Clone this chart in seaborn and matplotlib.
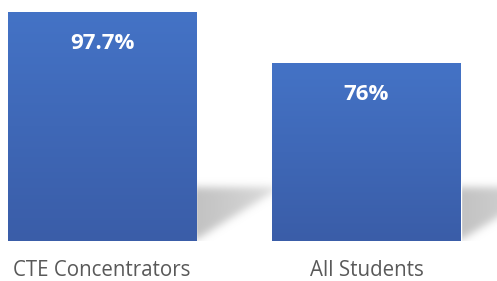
import numpy as np
import pandas as pd
import matplotlib
matplotlib.use("Agg")
import matplotlib.pyplot as plt
import seaborn as sns
from matplotlib.colors import LinearSegmentedColormap
from matplotlib.path import Path

# data
categories = ["CTE Concentrators", "All Students"]
values = [97.7, 76]
value_labels = ["97.7%", "76%"]

sns.set_style("white")
plt.rcParams['font.family'] = ['Open Sans', 'DejaVu Sans']

df = pd.DataFrame({"group": categories, "rate": values})

fig = plt.figure(figsize=(4.97, 2.81), dpi=100)
ax = fig.add_axes([0, 40 / 281, 1, 241 / 281])

sns.barplot(data=df, x="group", y="rate", color="#4472C4", width=0.711,
            saturation=1, ax=ax, zorder=3)

ax.set_xlim(-0.3856, 1.4934)
ax.set_ylim(0, 102.8)

cmap = LinearSegmentedColormap.from_list("bar", ["#3A5DA8", "#4473C6"])
grad = np.linspace(0, 1, 256).reshape(-1, 1)


def blur(a, sigma):
    r = int(3 * sigma)
    k = np.exp(-0.5 * (np.arange(-r, r + 1) / sigma) ** 2)
    k /= k.sum()
    a = np.apply_along_axis(lambda m: np.convolve(m, k, mode="same"), 0, a)
    a = np.apply_along_axis(lambda m: np.convolve(m, k, mode="same"), 1, a)
    return a


for i, patch in enumerate(ax.patches[:len(values)]):
    x0 = patch.get_x()
    w = patch.get_width()
    h = patch.get_height()
    R = x0 + w

    # soft perspective shadow behind the bar
    ext = [R - 0.12, R + 0.5, -4, 32]
    nx, ny = 165, 85
    xs = np.linspace(ext[0], ext[1], nx)
    ys = np.linspace(ext[2], ext[3], ny)
    gx, gy = np.meshgrid(xs, ys)
    tri = Path([(R - 0.12, 22.6), (R + 0.32, 22.6), (R, 0.4), (R - 0.12, 0.4)])
    mask = tri.contains_points(np.c_[gx.ravel(), gy.ravel()]).reshape(ny, nx)
    alpha = blur(mask.astype(float), 4.0)
    fade = np.clip(1 - (gx - R) / 0.45, 0, 1) ** 0.5
    rgba = np.zeros((ny, nx, 4))
    rgba[..., :3] = 0.72
    rgba[..., 3] = alpha * fade * 0.85
    ax.imshow(rgba, extent=ext, origin="lower", aspect="auto", zorder=1,
              interpolation="bilinear")

    im = ax.imshow(grad, cmap=cmap, aspect="auto", origin="lower",
                   extent=[x0, x0 + w, 0, h], zorder=4)
    im.set_clip_path(patch)
    ax.text(x0 + w / 2, h - 13.3, value_labels[i], ha="center", va="center",
            color="white", fontsize=16, fontweight="bold", zorder=5)

ax.set_xlim(-0.3856, 1.4934)
ax.set_ylim(0, 102.8)
ax.set_xlabel("")
ax.set_ylabel("")
ax.set_yticks([])
ax.tick_params(axis="x", length=0, pad=14, labelsize=14.8, labelcolor="#595959")
sns.despine(ax=ax, left=True, bottom=True)

fig.savefig("out.png", dpi=100)
